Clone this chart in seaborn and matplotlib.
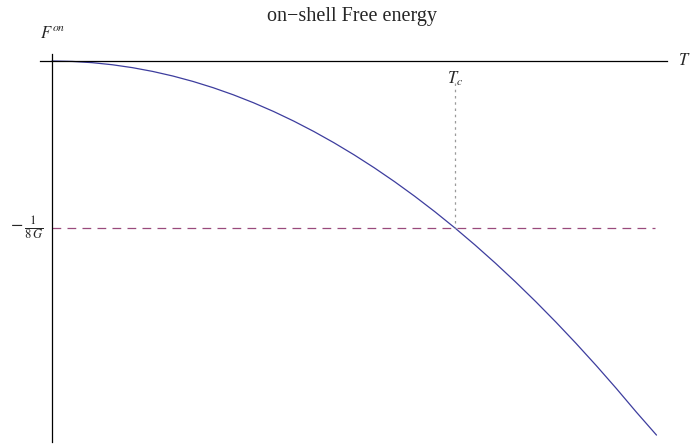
import numpy as np
import pandas as pd
import matplotlib
matplotlib.use("Agg")
import matplotlib.pyplot as plt
import seaborn as sns

# T in units of Tc, F in units of 1/(8G)
T_VALUES = [0.0, 0.05, 0.1, 0.15, 0.2, 0.25, 0.3, 0.35, 0.4, 0.45, 0.5,
            0.55, 0.6, 0.65, 0.7, 0.75, 0.8, 0.85, 0.9, 0.95, 1.0,
            1.05, 1.1, 1.15, 1.2, 1.25, 1.3, 1.35, 1.4, 1.45, 1.5]
F_VALUES = [0.0, -0.0025, -0.01, -0.0225, -0.04, -0.0625, -0.09, -0.1225,
            -0.16, -0.2025, -0.25, -0.3025, -0.36, -0.4225, -0.49, -0.5625,
            -0.64, -0.7225, -0.81, -0.9025, -1.0, -1.1025, -1.21, -1.3225,
            -1.44, -1.5625, -1.69, -1.8225, -1.96, -2.1025, -2.24]
TC = 1.0
F_CRIT = -1.0
TITLE = "on\u2212shell Free energy"

sns.set_style("white")
plt.rcParams["font.family"] = ["Liberation Serif", "DejaVu Serif"]
plt.rcParams["mathtext.fontset"] = "stix"

df = pd.DataFrame({"T": T_VALUES, "F": F_VALUES})

fig = plt.figure(figsize=(6.91, 4.46), dpi=100)
ax = fig.add_axes([0, 0, 1, 1])

sns.lineplot(data=df, x="T", y="F", ax=ax, color="#3d3d9e", linewidth=0.9)

# reference lines
ax.plot([0, 1.497], [F_CRIT, F_CRIT], color="#9a4a7c", linewidth=0.9,
        dashes=(7, 5))
ax.plot([TC, TC], [-0.13, F_CRIT], color="#9a9a9a", linewidth=0.9,
        dashes=(2, 3))

# pixel-matched limits
ax.set_xlim(-52 / 403, 639 / 403)
ax.set_ylim(-385 / 167, 61 / 167)

for s in ["top", "right"]:
    ax.spines[s].set_visible(False)
ax.spines["left"].set_position(("data", 0))
ax.spines["bottom"].set_position(("data", 0))
ax.spines["left"].set_bounds(-381 / 167, 7 / 167)
ax.spines["bottom"].set_bounds(-12 / 403, 615 / 403)
for s in ["left", "bottom"]:
    ax.spines[s].set_linewidth(0.9)
    ax.spines[s].set_color("black")

ax.set_xticks([TC])
ax.set_xticklabels([])
ax.set_yticks([F_CRIT])
ax.set_yticklabels([])
ax.tick_params(direction="in", length=6, width=0.8, color="#333333")
ax.set_xlabel("")
ax.set_ylabel("")

ax.text(TC, -0.05, r"$T_c$", ha="center", va="top", fontsize=12)
ax.text(-0.022, F_CRIT, r"$-\,\frac{1}{8\,G}$", ha="right", va="center",
        fontsize=13)
ax.text(-0.03, 0.16, r"$F^{on}$", ha="left", va="center", fontsize=12)
ax.text(1.553, 0.0, r"$T$", ha="left", va="center", fontsize=12)
fig.text(0.51, 0.985, TITLE, ha="center", va="top", fontsize=14.5)

fig.savefig("out.png", dpi=100)
